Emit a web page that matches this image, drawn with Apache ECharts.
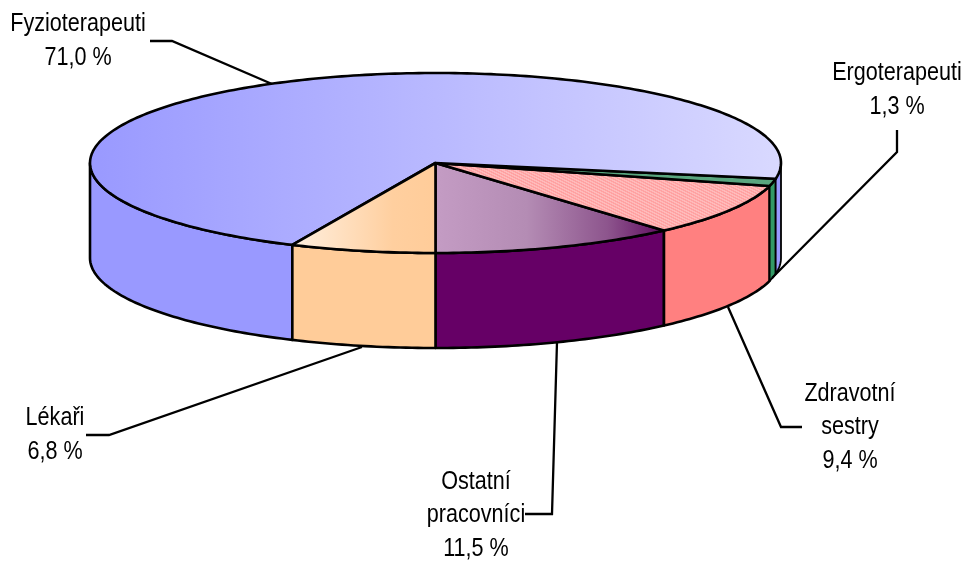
<!DOCTYPE html>
<html>
<head>
<meta charset="utf-8">
<style>html,body{margin:0;padding:0;background:#fff}#main{width:964px;height:562px}</style>
<script src="https://cdn.jsdelivr.net/npm/echarts@6/dist/echarts.min.js"></script>
</head>
<body>
<div id="main"></div>
<script>
// values in percent, starting at the front of the pie and going counter-clockwise on screen
var categories = ['Ostatní\npracovníci', 'Zdravotní\nsestry', 'Ergoterapeuti', 'Fyzioterapeuti', 'Lékaři'];
var shares = [11.5, 9.4, 1.3, 71.0, 6.8];

var sideColors = ['#660066', '#ff8080', '#339966', '#9999ff', '#ffcc99'];

var cx = 435.5, cy = 163, rx = 345.5, ry = 90, depth = 95;

// label text position and leader line for each slice
var labelPos = [[476, 515], [850, 427], [897, 90], [78, 41], [55, 435]];
var leaders = [
    [[525, 514], [552, 514], [557, 342]],
    [[728, 307], [781, 427], [802, 427]],
    [[897, 130], [897, 152], [772, 278]],
    [[150, 41], [172, 41], [272, 84]],
    [[86, 435], [109, 435], [362, 347]]
];

function hatch() {
    var c = document.createElement('canvas');
    c.width = 6;
    c.height = 3;
    var g = c.getContext('2d');
    g.fillStyle = '#ffa2a2';
    g.fillRect(0, 0, 6, 3);
    g.fillStyle = '#ffbaba';
    g.fillRect(0, 0, 3, 1);
    g.fillRect(2, 1, 3, 1);
    g.fillRect(4, 2, 2, 1);
    g.fillRect(0, 2, 1, 1);
    return c;
}

function grad(stops) {
    return new echarts.graphic.LinearGradient(0, 0, 1, 0, stops.map(function (s) {
        return { offset: s[0], color: s[1] };
    }));
}

var topFills = [
    grad([[0, '#c49cc4'], [0.4, '#b48cb4'], [0.75, '#8d558d'], [1, '#5f0a5f']]),
    { image: hatch(), repeat: 'repeat' },
    '#5aa67f',
    grad([[0, '#9999ff'], [1, '#d9d9ff']]),
    grad([[0, '#fff0e0'], [0.7, '#ffcf9f'], [1, '#ffcc99']])
];

function sliceRange(i) {
    var start = 0;
    for (var k = 0; k < i; k++) start += shares[k];
    return [start * 3.6, (start + shares[i]) * 3.6];
}

function pt(deg, dy) {
    var a = deg * Math.PI / 180;
    return [cx + rx * Math.sin(a), cy + ry * Math.cos(a) + (dy || 0)];
}

function arc(a, b, dy) {
    var pts = [];
    var n = Math.max(2, Math.ceil(Math.abs(b - a)));
    for (var k = 0; k <= n; k++) pts.push(pt(a + (b - a) * k / n, dy));
    return pts;
}

function wall(a, b, fill) {
    var pts = arc(a, b, 0).concat(arc(b, a, depth));
    return {
        type: 'polygon',
        shape: { points: pts },
        style: { fill: fill, stroke: '#000', lineWidth: Math.abs(b - a) < 12 ? 1.8 : 2.6, lineJoin: 'round' }
    };
}

function renderWall(params, api) {
    var i = api.value(0);
    var r = sliceRange(i);
    var kids = [];
    // only the front half of the rim can be seen
    if (r[0] < 90) kids.push(wall(r[0], Math.min(r[1], 90), sideColors[i]));
    if (r[1] > 270) kids.push(wall(Math.max(r[0], 270), r[1], sideColors[i]));
    return { type: 'group', children: kids };
}

function renderTop(params, api) {
    var i = api.value(0);
    var r = sliceRange(i);
    return {
        type: 'polygon',
        shape: { points: [[cx, cy]].concat(arc(r[0], r[1], 0)) },
        style: { fill: topFills[i], stroke: '#000', lineWidth: 2.6, lineJoin: 'round' }
    };
}

function renderLabel(params, api) {
    var i = api.value(0);
    var txt = categories[i] + '\n' + api.value(1).toFixed(1).replace('.', ',') + ' %';
    return {
        type: 'group',
        children: [
            {
                type: 'polyline',
                shape: { points: leaders[i] },
                style: { fill: null, stroke: '#000', lineWidth: 2.3 }
            },
            {
                type: 'text',
                x: labelPos[i][0],
                y: labelPos[i][1],
                scaleX: 0.83,
                style: {
                    text: txt,
                    fill: '#000',
                    font: '26px "Liberation Sans", Arial, sans-serif',
                    lineHeight: 33.5,
                    align: 'center',
                    verticalAlign: 'middle'
                }
            }
        ]
    };
}

var rows = shares.map(function (v, i) { return [i, v]; });
var myChart = echarts.init(document.getElementById('main'), null, { renderer: 'canvas' });

myChart.setOption({
    animation: false,
    backgroundColor: '#fff',
    series: [
        { type: 'custom', coordinateSystem: 'none', z: 1, data: rows, renderItem: renderWall, silent: true },
        { type: 'custom', coordinateSystem: 'none', z: 2, data: rows, renderItem: renderTop, silent: true },
        { type: 'custom', coordinateSystem: 'none', z: 3, data: rows, renderItem: renderLabel, silent: true }
    ]
});
</script>
</body>
</html>
